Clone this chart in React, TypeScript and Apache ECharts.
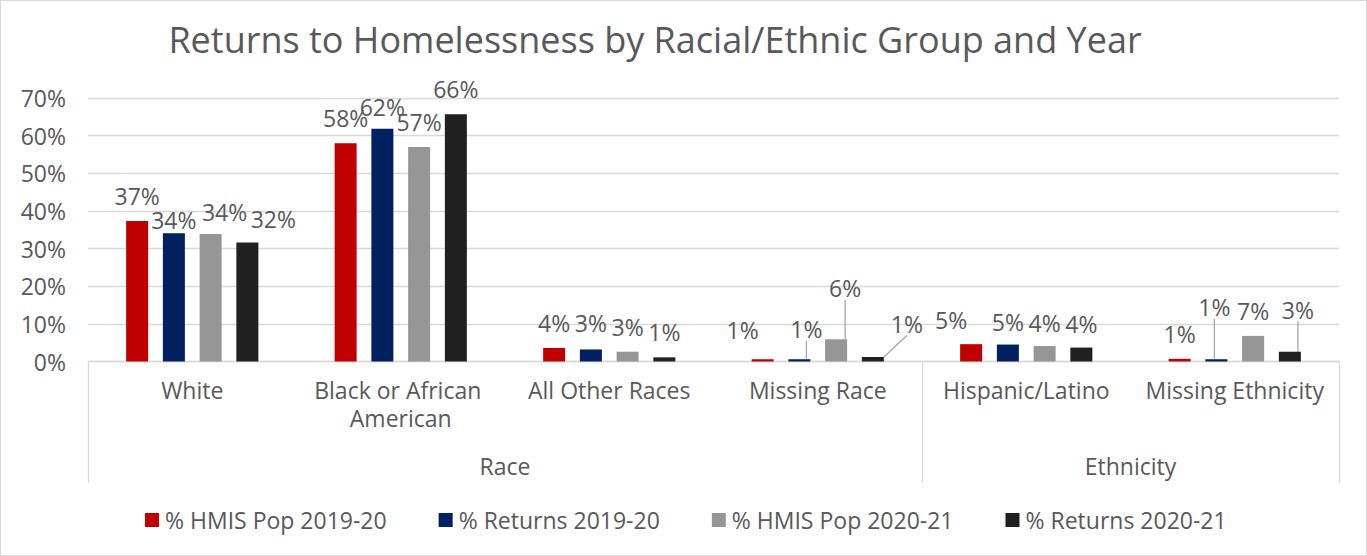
import React, { useEffect, useRef } from 'react';
import * as echarts from 'echarts';

const chartTitle = 'Returns to Homelessness by Racial/Ethnic Group and Year';
const categories = [
  'White',
  'Black or African American',
  'All Other Races',
  'Missing Race',
  'Hispanic/Latino',
  'Missing Ethnicity',
];
const groupNames = ['Race', 'Ethnicity'];
const groupSizes = [4, 2];
const seriesNames = ['% HMIS Pop 2019-20', '% Returns 2019-20', '% HMIS Pop 2020-21', '% Returns 2020-21'];
const hmisPop1920 = [37.3, 58.0, 3.6, 0.6, 4.6, 0.7];
const returns1920 = [34.1, 61.8, 3.2, 0.6, 4.5, 0.6];
const hmisPop2021 = [33.9, 57.0, 2.6, 5.9, 4.1, 6.8];
const returns2021 = [31.6, 65.7, 1.1, 1.2, 3.7, 2.6];

const seriesValues = [hmisPop1920, returns1920, hmisPop2021, returns2021];
const seriesColors = ['#C00000', '#002060', '#969696', '#202020'];

// label nudges (px) relative to default "top" placement, per series / category
const labelShift = [
  [[0, 0], [0, 0], [0, 0], [-20, -4], [-20, 1], [0, 0]],
  [[0, 12], [0, 3], [0, -1], [7, -5], [0, 2], [-2, -27]],
  [[14, 3], [0, 0], [0, 0], [9, -26], [0, 2], [0, 0]],
  [[26, 1], [0, 0], [0, 0], [34, -8], [0, 1], [8, -17]],
];
const leaderLines = [[], [3, 5], [3], [3, 5]];

const FONT = 'Open Sans';
const TEXT = '#595959';
const GRID = '#D9D9D9';
const FS = 23;

export default function App() {
  const ref = useRef<HTMLDivElement>(null);
  useEffect(() => {
    if (!ref.current) return;
    const chart = echarts.init(ref.current, null, { renderer: 'svg' });

    const bounds: number[] = [0];
    groupSizes.forEach((s) => bounds.push(bounds[bounds.length - 1] + s));
    const mids = groupSizes.map((s, i) => bounds[i] + s / 2);

    const series = seriesNames.map((name, si) => ({
      name,
      type: 'bar',
      xAxisIndex: 0,
      yAxisIndex: 0,
      barWidth: 22,
      barGap: '67%',
      itemStyle: { color: seriesColors[si] },
      label: {
        show: true,
        position: 'top',
        distance: 13.5,
        fontFamily: FONT,
        fontSize: FS,
        lineHeight: FS,
        color: TEXT,
        formatter: (p: any) => Math.round(p.value) + '%',
      },
      labelLine: { show: false, lineStyle: { color: '#A6A6A6', width: 1.3 } },
      labelLayout: (p: any) => {
        const s = labelShift[si][p.dataIndex];
        return { dx: s[0], dy: s[1] };
      },
      data: seriesValues[si].map((v, ci) =>
        leaderLines[si].includes(ci)
          ? { value: v, labelLine: { show: true, lineStyle: { color: '#A6A6A6', width: 1.3 } } }
          : v
      ),
    }));

    chart.setOption({
      animation: false,
      backgroundColor: '#FFFFFF',
      textStyle: { fontFamily: FONT },
      title: {
        text: chartTitle,
        left: 655,
        textAlign: 'center',
        top: 21.5,
        padding: 0,
        textStyle: { fontFamily: FONT, fontSize: 36, fontWeight: 'normal', color: TEXT, lineHeight: 36 },
      },
      legend: {
        data: seriesNames,
        left: 145,
        top: 508.5,
        padding: 0,
        icon: 'rect',
        itemWidth: 14,
        itemHeight: 14,
        itemGap: 52,
        textStyle: { fontFamily: FONT, fontSize: FS, color: TEXT, padding: [0, 0, 0, 1] },
      },
      grid: { left: 88, right: 28, top: 98, bottom: 194.5, containLabel: false },
      xAxis: [
        {
          type: 'category',
          data: categories,
          position: 'bottom',
          axisLine: { show: true, lineStyle: { color: GRID, width: 1.3 } },
          axisTick: { show: false },
          axisLabel: {
            interval: 0,
            margin: 14.5,
            fontFamily: FONT,
            fontSize: FS,
            lineHeight: 28,
            color: TEXT,
            width: 198,
            overflow: 'break',
          },
        },
        {
          type: 'value',
          min: 0,
          max: bounds[bounds.length - 1],
          position: 'bottom',
          axisLine: { show: false },
          splitLine: { show: false },
          axisTick: {
            show: true,
            customValues: bounds,
            length: 121.5,
            lineStyle: { color: GRID, width: 1.3 },
          },
          axisLabel: {
            customValues: mids,
            margin: 90.5,
            fontFamily: FONT,
            fontSize: FS,
            lineHeight: 28,
            color: TEXT,
            formatter: (v: number) => {
              const i = mids.indexOf(v);
              return i >= 0 ? groupNames[i] : '';
            },
          },
        },
      ],
      yAxis: {
        type: 'value',
        min: 0,
        max: 70,
        interval: 10,
        axisLine: { show: false },
        axisTick: { show: false },
        splitLine: { lineStyle: { color: GRID, width: 1.3 } },
        axisLabel: {
          margin: 22,
          fontFamily: FONT,
          fontSize: FS,
          color: TEXT,
          formatter: '{value}%',
        },
      },
      series,
    });
    return () => chart.dispose();
  }, []);

  return (
    <div style={{ position: 'absolute', left: 0, top: 0, width: 1367, height: 556 }}>
      <div ref={ref} style={{ position: 'absolute', left: 0, top: 0, width: 1367, height: 556 }} />
      <div
        style={{
          position: 'absolute',
          left: 0,
          top: 0,
          width: 1367,
          height: 556,
          boxSizing: 'border-box',
          border: '1px solid #D9D9D9',
          pointerEvents: 'none',
        }}
      />
    </div>
  );
}
